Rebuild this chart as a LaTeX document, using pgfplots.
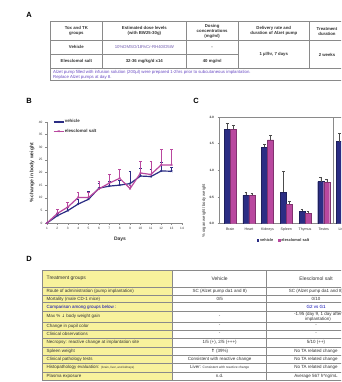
\documentclass[border=0pt]{standalone}
\usepackage{pgfplots}
\pgfplotsset{compat=1.18}
\usepackage{fontspec}
\setmainfont{Liberation Sans}
\newfontfamily\dejavu{DejaVu Sans}
\definecolor{veh}{HTML}{2B2D84}
\definecolor{ele}{HTML}{B9489F}
\definecolor{yel}{HTML}{F8F29C}
\definecolor{purp}{HTML}{6A4BC4}
\definecolor{lineg}{HTML}{8A8A8A}
\definecolor{txtg}{HTML}{333333}
\newcommand{\fs}[1]{\fontsize{#1}{#1}\selectfont}
\newcommand{\fsb}[2]{\fontsize{#1}{#2}\selectfont}
\begin{document}
\begin{tikzpicture}[x=1pt,y=1pt]
\useasboundingbox (0,0) rectangle (341,382);
\clip (0,0) rectangle (341,382);
\fill[white] (0,0) rectangle (341,382);

% panel labels
\node[font=\bfseries\fs{7.5}] at (29,367) {A};
\node[font=\bfseries\fs{7.5}] at (29,281) {B};
\node[font=\bfseries\fs{7.5}] at (196,281) {C};
\node[font=\bfseries\fs{7.5}] at (29,123) {D};

% ---------------- Table A ----------------
\begin{scope}[lineg, line width=0.5pt]
\draw (50,301.3) rectangle (344,360.3);
\draw (50,341.3) -- (344,341.3);
\draw (50,328) -- (238.3,328);
\draw (50,313.7) -- (344,313.7);
\foreach \xx in {102.7,186,238.3,309.3} \draw (\xx,360.3) -- (\xx,313.7);
\end{scope}
\begin{scope}[every node/.style={font=\bfseries\fs{4.3}, align=center, text=txtg, inner sep=0pt}]
\node[font=\bfseries\fsb{4.3}{4.8}] at (76.35,350.8) {Tox and TK\\groups};
\node[font=\bfseries\fsb{4.3}{4.8}] at (144.35,350.8) {Estimated dose levels\\(with BW25-30g)};
\node[font=\bfseries\fsb{4.3}{4.8}] at (212.15,350.8) {Dosing\\concentrations\\(mg/ml)};
\node[font=\bfseries\fsb{4.3}{4.8}] at (273.8,350.8) {Delivery rate and\\duration of Alzet pump};
\node[font=\bfseries\fsb{4.3}{4.8}] at (327,350.8) {Treatment\\duration};
\node at (76.35,334.65) {Vehicle};
\node[font=\fs{4.3}, text=purp!70!gray] at (144.35,334.65) {10\%DMSO/18\%Cr-RH40/D5W};
\node at (212.15,334.65) {-};
\node at (76.35,320.85) {Elesclomol salt};
\node at (144.35,320.85) {32-36 mg/kg/d x14};
\node at (212.15,320.85) {40 mg/ml};
\node at (273.8,327.5) {1 µl/hr, 7 days};
\node at (327,327.5) {2 weeks};
\node[font=\fsb{4.3}{5.2}, text=purp, align=left, anchor=north west] at (53,311.6) {Alzet pump filled with infusion solution (200µl) were prepared 1-2hrs prior to subcutaneous implantation.\\Replace Alzet pumps at day 8.};
\end{scope}

% ---------------- Panel B ----------------
\begin{axis}[at={(47pt,159pt)}, anchor=south west, scale only axis,
  width=135pt, height=101pt,
  xmin=1, xmax=14, ymin=0, ymax=40,
  axis lines*=left, axis line style={lineg, line width=0.5pt},
  xtick={1,...,14}, ytick={0,5,...,40},
  tick style={lineg, line width=0.4pt}, major tick length=2pt, tick align=outside,
  ticklabel style={font=\fs{3.2}, text=txtg},
  xticklabel style={yshift=1pt}, yticklabel style={xshift=1pt},
  /pgf/number format/assume math mode=true,
  clip=false,
  legend style={at={(0.044,1.03)}, anchor=north west, draw=none, fill=none,
     font=\bfseries\fs{4.4}, row sep=3.5pt, inner sep=0pt,
     nodes={inner sep=0.5pt, text=txtg}},
  legend image code/.code={\draw[#1] (0pt,0pt) -- (10pt,0pt); \draw[#1, mark repeat=1] plot coordinates {(5pt,0pt)};},
  legend cell align=left,
]
\addplot[veh, line width=1.2pt, mark=x, mark size=1.2pt, mark options={line width=0.5pt},
  error bars/.cd, y dir=plus, y explicit, error bar style={veh, line width=0.6pt},
  error mark options={rotate=90, mark size=1.3pt, veh, line width=0.6pt}]
  coordinates {
  (1,0) +- (0,0)
  (2,2.9) +- (0,1.0)
  (3,4.9) +- (0,1.5)
  (4,7.5) +- (0,2.0)
  (5,9.4) +- (0,3.0)
  (6,13.8) +- (0,2.0)
  (7,14.6) +- (0,1.8)
  (8,15.0) +- (0,1.8)
  (9,15.6) +- (0,5.0)
  (10,18.6) +- (0,3.0)
  (11,18.4) +- (0,3.0)
  (12,20.6) +- (0,3.5)
  (13,20.5) +- (0,1.5)
  };
\addlegendentry{vehicle}
\addplot[ele, line width=1.2pt, mark=x, mark size=1.2pt, mark options={line width=0.5pt},
  error bars/.cd, y dir=plus, y explicit, error bar style={ele, line width=0.6pt},
  error mark options={rotate=90, mark size=1.3pt, ele, line width=0.6pt}]
  coordinates {
  (1,0) +- (0,0)
  (2,3.8) +- (0,1.5)
  (3,6.3) +- (0,2.0)
  (4,10.1) +- (0,2.0)
  (5,10.1) +- (0,2.0)
  (6,13.5) +- (0,3.0)
  (7,15.8) +- (0,3.3)
  (8,17.7) +- (0,3.6)
  (9,13.6) +- (0,1.5)
  (10,19.8) +- (0,4.5)
  (11,19.2) +- (0,5.1)
  (12,23.0) +- (0,6.2)
  (13,23.0) +- (0,6.2)
  };
\addlegendentry{elesclomol salt}
\end{axis}
\node[font=\bfseries\fs{5}, text=txtg] at (120,143) {Days};
\node[font=\bfseries\fs{5}, text=txtg, rotate=90] at (32,209) {\% change in body weight};

% ---------------- Panel C ----------------
\begin{axis}[at={(219pt,158.3pt)}, anchor=south west, scale only axis,
  width=149.6pt, height=106.7pt,
  xmin=-0.6, xmax=7.4, ymin=0, ymax=2,
  ybar=0pt, bar width=6pt,
  axis line style={lineg, line width=0.5pt},
  xtick={0,...,6}, xticklabels={Brain,Heart,Kidneys,Spleen,Thymus,Testes,Liver},
  x tick style={draw=none},
  ytick={0,0.5,...,2},
  y tick style={lineg, line width=0.4pt}, major tick length=1.5pt, tick align=outside,
  yticklabel style={/pgf/number format/.cd, fixed, fixed zerofill, precision=1},
  ticklabel style={font=\bfseries\fs{3.2}, text=txtg},
  /pgf/number format/assume math mode=true,
  xticklabel style={font=\fs{3.6}, yshift=0.5pt},
  legend style={at={(0.43,-0.16)}, anchor=center, draw=none, fill=none,
     font=\bfseries\fs{3.9}, legend columns=2, inner sep=0pt,
     nodes={inner sep=0.7pt, text=txtg},
     /tikz/every even column/.append style={column sep=4pt}},
  legend image code/.code={\draw[#1,/tikz/.cd,draw=none] (0pt,-1.3pt) rectangle (2.6pt,1.3pt);},
  error bars/y dir=plus, error bars/y explicit,
  error bars/error bar style={black!70, line width=0.4pt},
  error bars/error mark options={rotate=90, mark size=1.3pt, black!70, line width=0.4pt},
]
\draw[lineg, line width=0.5pt] (axis cs:5.5,0) -- (axis cs:5.5,2);
\addplot[fill=veh, draw=veh!70!black, line width=0.3pt] coordinates {
  (0,1.77) +- (0,0.11)
  (1,0.53) +- (0,0.06)
  (2,1.43) +- (0,0.06)
  (3,0.59) +- (0,0.39)
  (4,0.23) +- (0,0.05)
  (5,0.79) +- (0,0.08)
  (6,1.54) +- (0,0.16)
  };
\addlegendentry{vehicle}
\addplot[fill=ele, draw=ele!70!black, line width=0.3pt] coordinates {
  (0,1.77) +- (0,0.08)
  (1,0.53) +- (0,0.04)
  (2,1.57) +- (0,0.08)
  (3,0.36) +- (0,0.07)
  (4,0.20) +- (0,0.03)
  (5,0.78) +- (0,0.06)
  };
\addlegendentry{elesclomol salt}
\end{axis}
\node[font=\fs{4.2}, text=txtg, rotate=90] at (204,171) {\% organ weight/ body weight};

% ---------------- Table D ----------------
\fill[yel] (42.7,1.7) rectangle (172.7,111.7);
\begin{scope}[lineg, line width=0.5pt]
\draw (42.7,1.7) rectangle (365,111.7);
\foreach \yy in {95,86.7,79.3,70.7,60,51.7,44,35,26.7,19,10} \draw (42.7,\yy) -- (365,\yy);
\draw[line width=0.8pt] (172.7,1.7) -- (172.7,111.7);
\draw[line width=0.8pt] (266.7,1.7) -- (266.7,111.7);
\end{scope}
\begin{scope}[every node/.style={font=\fs{4.5}, text=txtg, inner sep=0pt}]
\node[anchor=west, font=\fs{5}] at (46.5,103.35) {Treatment groups};
\node[font=\fs{5}] at (219.7,103.35) {Vehicle};
\node[font=\fs{5}] at (316,103.35) {Elesclomol salt};
\node[anchor=west] at (46.5,90.85) {Route of administration (pump implantation)};
\node[anchor=west] at (46.5,83) {Mortality (male CD-1 mice)};
\node[anchor=west, text=blue!70!black] at (46.5,75) {Comparison among groups below :};
\node[anchor=west] at (46.5,65.35) {Max \% {\dejavu\fs{4.2}↓} body weight gain};
\node[anchor=west] at (46.5,55.85) {Change in pupil color};
\node[anchor=west] at (46.5,47.85) {Clinical observations};
\node[anchor=west] at (46.5,39.5) {Necropsy: reactive change at implantation site};
\node[anchor=west] at (46.5,30.85) {Spleen weight};
\node[anchor=west] at (46.5,22.85) {Clinical pathology tests};
\node[anchor=west] at (46.5,14.5) {Histopathology evaluation: {\fs{3}(brain, liver, and kidneys)}};
\node[anchor=west] at (46.5,5.85) {Plasma exposure};
\node at (219.7,90.85) {SC (Alzet pump da1 and 8)};
\node at (219.7,83) {0/5};
\node at (219.7,65.35) {-};
\node at (219.7,55.85) {-};
\node at (219.7,47.85) {-};
\node at (219.7,39.5) {1/5 (+), 2/5 (+++)};
\node at (219.7,30.85) {{\dejavu\bfseries\fs{4.5}↑} (39\%)};
\node at (219.7,22.85) {Consistent with reactive change};
\node at (219.7,14.5) {Liver: {\fs{3.3}Consistent with reactive change}};
\node at (219.7,5.85) {n.d.};
\node at (316,90.85) {SC (Alzet pump da1 and 8)};
\node at (316,83) {0/10};
\node[text=blue!70!black] at (316,75) {G2 vs G1};
\node[align=center, font=\fsb{4.5}{4.8}] at (318,65.35) {-1.95 (day 9, 1 day after\\implantation)};
\node at (316,55.85) {-};
\node at (316,47.85) {-};
\node at (316,39.5) {5/10 (++)};
\node at (316,30.85) {No TA related change};
\node at (316,22.85) {No TA related change};
\node at (316,14.5) {No TA related change};
\node at (316,5.85) {Average 567 h*ng/mL};
\end{scope}
\end{tikzpicture}
\end{document}
